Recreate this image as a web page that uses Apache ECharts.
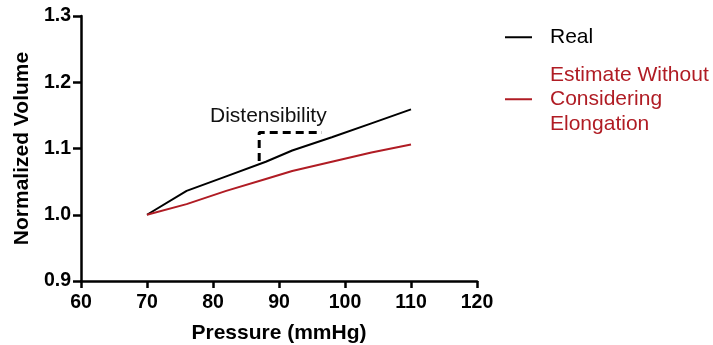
<!DOCTYPE html>
<html>
<head>
<meta charset="utf-8">
<script src="https://cdn.jsdelivr.net/npm/echarts@6/dist/echarts.min.js"></script>
<style>
  html, body { margin: 0; padding: 0; background: #fff; }
  #chart { width: 713px; height: 345px; }
</style>
</head>
<body>
<div id="chart"></div>
<script>
// pressure (mmHg) vs normalized volume
const pressure = [70, 76, 82, 88, 92, 98, 104, 110];
const realVolume = [1.000, 1.036, 1.058, 1.080, 1.097, 1.117, 1.138, 1.159];
const estimateVolume = [1.000, 1.016, 1.036, 1.054, 1.066, 1.080, 1.094, 1.106];

// dashed bracket marking distensibility
const bracketPressure = [87, 87, 96.5];
const bracketVolume = [1.081, 1.124, 1.124];

const xTicks = { min: 60, max: 120, interval: 10 };
const yTicks = { min: 0.9, max: 1.3, interval: 0.1 };

const font = "'Liberation Sans', Arial, sans-serif";
const red = "#b01c24";

const chart = echarts.init(document.getElementById("chart"));
chart.setOption({
  animation: false,
  textStyle: { fontFamily: font },
  grid: { left: 81, right: 236, top: 16, bottom: 64, outerBoundsMode: "none" },
  legend: {
    orient: "vertical",
    left: 500,
    top: 20,
    itemWidth: 27,
    itemHeight: 2,
    itemGap: 13,
    icon: "rect",
    textStyle: { fontSize: 21, fontFamily: font, lineHeight: 24.5, padding: [0, 0, 0, 13] },
    data: [
      { name: "Real", textStyle: { color: "#000" } },
      { name: "Estimate Without\nConsidering\nElongation", textStyle: { color: red } },
    ],
  },
  xAxis: {
    type: "value",
    ...xTicks,
    name: "Pressure (mmHg)",
    nameLocation: "middle",
    nameGap: 42,
    nameTextStyle: { fontSize: 21, fontWeight: "bold", color: "#000" },
    axisLine: { lineStyle: { color: "#000", width: 2.5 } },
    axisTick: { length: 7, lineStyle: { color: "#000", width: 2.5 } },
    axisLabel: { fontSize: 19.5, fontWeight: "bold", color: "#000", margin: 12 },
    splitLine: { show: false },
  },
  yAxis: {
    type: "value",
    ...yTicks,
    name: "Normalized Volume",
    nameLocation: "middle",
    nameGap: 46,
    nameTextStyle: { fontSize: 21, fontWeight: "bold", color: "#000" },
    axisLine: { show: true, lineStyle: { color: "#000", width: 2.5 } },
    axisTick: { show: true, length: 8, lineStyle: { color: "#000", width: 2.5 } },
    axisLabel: {
      fontSize: 19.5, fontWeight: "bold", color: "#000", margin: 10,
      formatter: (v) => v.toFixed(1),
    },
    splitLine: { show: false },
  },
  graphic: [
    {
      type: "text",
      left: 210,
      top: 106,
      style: { text: "Distensibility", fontSize: 21, fontFamily: font, fill: "#111" },
    },
  ],
  series: [
    {
      name: "Real",
      type: "line",
      showSymbol: false,
      data: pressure.map((p, i) => [p, realVolume[i]]),
      lineStyle: { color: "#000", width: 2 },
      itemStyle: { color: "#000" },
    },
    {
      name: "Estimate Without\nConsidering\nElongation",
      type: "line",
      showSymbol: false,
      data: pressure.map((p, i) => [p, estimateVolume[i]]),
      lineStyle: { color: red, width: 2 },
      itemStyle: { color: red },
    },
    {
      name: "bracket",
      type: "line",
      showSymbol: false,
      silent: true,
      data: bracketPressure.map((p, i) => [p, bracketVolume[i]]),
      lineStyle: { color: "#000", width: 3, type: [8, 5] },
    },
  ],
});
</script>
</body>
</html>
